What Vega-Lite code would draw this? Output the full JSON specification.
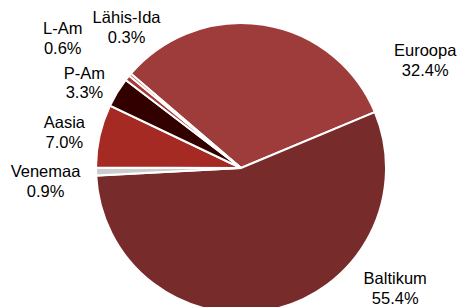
{
  "$schema": "https://vega.github.io/schema/vega-lite/v6.json",
  "width": 438,
  "height": 278,
  "autosize": {"type": "none"},
  "padding": {"left": 22, "top": 29, "right": 0, "bottom": 0},
  "background": "white",
  "view": {"stroke": null},
  "data": {
    "values": [
      {"region": "Euroopa", "share": 0.324},
      {"region": "Baltikum", "share": 0.554},
      {"region": "Venemaa", "share": 0.009},
      {"region": "Aasia", "share": 0.070},
      {"region": "P-Am", "share": 0.033},
      {"region": "L-Am", "share": 0.006},
      {"region": "Lähis-Ida", "share": 0.003}
    ]
  },
  "transform": [{"window": [{"op": "row_number", "as": "rank"}]}],
  "encoding": {
    "theta": {"field": "share", "type": "quantitative", "stack": true, "scale": {"range": [-0.8622, 5.4210]}},
    "order": {"field": "rank", "type": "quantitative", "sort": "ascending"}
  },
  "layer": [
    {
      "mark": {"type": "arc", "radius": 145, "stroke": "white", "strokeWidth": 2},
      "encoding": {
        "color": {
          "field": "region",
          "type": "nominal",
          "scale": {
            "domain": ["Euroopa", "Baltikum", "Venemaa", "Aasia", "P-Am", "L-Am", "Lähis-Ida"],
            "range": ["#9E3B3B", "#782B2B", "#CCCCCC", "#A52A24", "#330000", "#A83A36", "#B5443F"]
          },
          "legend": null
        }
      }
    },
    {
      "mark": {
        "type": "text", "font": "Liberation Sans", "fontSize": 16.5, "fill": "black",
        "align": "center", "baseline": "middle", "dy": -9.75,
        "radius": {"expr": "datum.region === 'Euroopa' ? 213 : datum.region === 'Baltikum' ? 196 : datum.region === 'Venemaa' ? 196 : datum.region === 'Aasia' ? 180 : datum.region === 'P-Am' ? 178 : datum.region === 'L-Am' ? 220 : 181"},
        "thetaOffset": {"expr": "datum.region === 'Euroopa' ? 0.888 : datum.region === 'Baltikum' ? -0.682 : datum.region === 'Venemaa' ? -0.047 : datum.region === 'Aasia' ? -0.030 : datum.region === 'P-Am' ? -0.052 : datum.region === 'L-Am' ? -0.045 : 0.187"}
      },
      "encoding": {"text": {"field": "region", "type": "nominal"}}
    },
    {
      "mark": {
        "type": "text", "font": "Liberation Sans", "fontSize": 16.5, "fill": "black",
        "align": "center", "baseline": "middle", "dy": 9.75,
        "radius": {"expr": "datum.region === 'Euroopa' ? 213 : datum.region === 'Baltikum' ? 196 : datum.region === 'Venemaa' ? 196 : datum.region === 'Aasia' ? 180 : datum.region === 'P-Am' ? 178 : datum.region === 'L-Am' ? 220 : 181"},
        "thetaOffset": {"expr": "datum.region === 'Euroopa' ? 0.888 : datum.region === 'Baltikum' ? -0.682 : datum.region === 'Venemaa' ? -0.047 : datum.region === 'Aasia' ? -0.030 : datum.region === 'P-Am' ? -0.052 : datum.region === 'L-Am' ? -0.045 : 0.187"}
      },
      "encoding": {"text": {"field": "share", "type": "quantitative", "format": ".1%"}}
    }
  ]
}
